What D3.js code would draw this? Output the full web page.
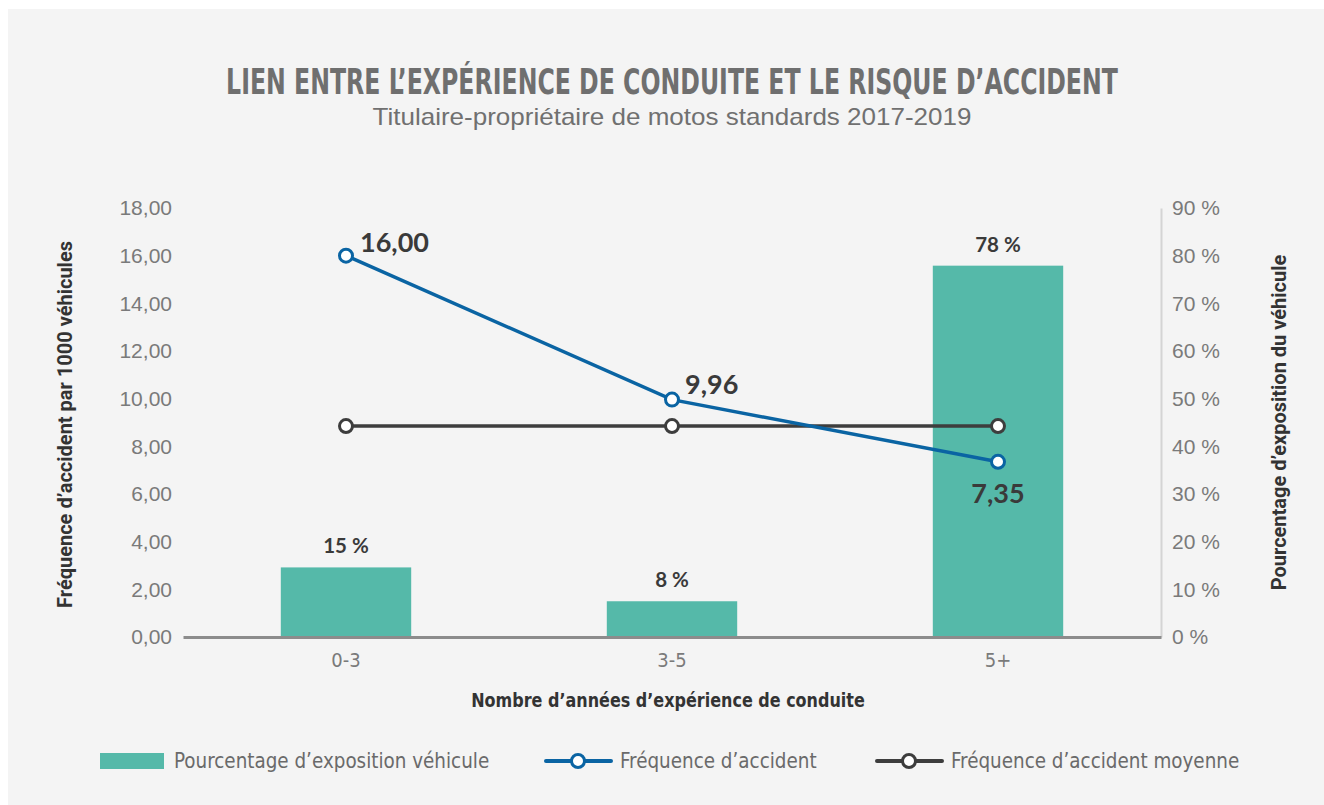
<!DOCTYPE html>
<html>
<head>
<meta charset="utf-8">
<script src="https://cdn.jsdelivr.net/npm/d3@7"></script>
<style>
  html, body { margin: 0; padding: 0; background: #ffffff; }
  svg { display: block; }
</style>
</head>
<body>
<div id="chart"></div>
<script>
// Lien entre l'expérience de conduite et le risque d'accident

// Data
const categories = ["0-3", "3-5", "5+"];
const exposure = [0.146, 0.075, 0.779];          // pourcentage d'exposition véhicule
const frequency = [16.00, 9.96, 7.35];           // fréquence d'accident
const averageFrequency = [8.85, 8.85, 8.85];     // fréquence d'accident moyenne
const leftTicks = [0, 2, 4, 6, 8, 10, 12, 14, 16, 18];
const rightTicks = [0, 0.1, 0.2, 0.3, 0.4, 0.5, 0.6, 0.7, 0.8, 0.9];

const W = 1324, H = 805;
const plot = {left: 183, right: 1161, top: 208, bottom: 637};

const fr = d3.formatLocale({decimal: ",", thousands: " ", grouping: [3], currency: ["", " €"]});
const fmt2 = fr.format(".2f");
const pct = d => Math.round(d * 100) + " %";

const narrow = "'Liberation Sans Narrow', 'DejaVu Sans Condensed', sans-serif";
const sans = "'Liberation Sans', Arial, sans-serif";
const bold = "Lato, 'Open Sans', sans-serif";

const colTeal = "#55b9a9", colBlue = "#0a64a3", colDark = "#3d3d3d";

const svg = d3.select("#chart").append("svg")
    .attr("width", W)
    .attr("height", H);

// Panel background
svg.append("rect")
    .attr("x", 8).attr("y", 9)
    .attr("width", W - 8).attr("height", H - 9)
    .attr("fill", "#f4f4f4");

// squeeze a text horizontally so it spans the given width around cx
function fitWidth(sel, cx, width) {
    const w = sel.node().getComputedTextLength();
    const k = width / w;
    sel.attr("x", 0)
        .attr("transform", `translate(${cx},${sel.attr("y")}) scale(${k},1)`)
        .attr("y", 0);
}

// Title
const title = svg.append("text")
    .attr("y", 94)
    .attr("text-anchor", "middle")
    .style("font-family", narrow)
    .style("font-weight", "bold")
    .style("font-size", "35px")
    .attr("fill", "#6f6f6f")
    .text("LIEN ENTRE L’EXPÉRIENCE DE CONDUITE ET LE RISQUE D’ACCIDENT");
fitWidth(title, 672, 892);

const subtitle = svg.append("text")
    .attr("y", 125)
    .attr("text-anchor", "middle")
    .style("font-family", sans)
    .style("font-size", "23px")
    .attr("fill", "#707070")
    .text("Titulaire-propriétaire de motos standards 2017-2019");
fitWidth(subtitle, 672, 599);

// Scales
const x = d3.scaleBand()
    .domain(categories)
    .range([plot.left, plot.right])
    .paddingInner(0).paddingOuter(0);

const y = d3.scaleLinear().domain([0, 18]).range([plot.bottom, plot.top]);
const y2 = d3.scaleLinear().domain([0, 0.9]).range([plot.bottom, plot.top]);

const barW = x.bandwidth() * 0.4;
const cx = d => x(d) + x.bandwidth() / 2;

// Left axis (labels only)
const leftAxis = svg.append("g")
    .attr("transform", `translate(${plot.left - 11},0)`)
    .call(d3.axisLeft(y).tickValues(leftTicks).tickFormat(fmt2).tickSize(0).tickPadding(0));
leftAxis.select(".domain").remove();
leftAxis.selectAll("text")
    .style("font-family", sans)
    .style("font-size", "21px")
    .attr("fill", "#7a7a7a");

// Right axis
const rightAxis = svg.append("g")
    .attr("transform", `translate(${plot.right},0)`)
    .call(d3.axisRight(y2).tickValues(rightTicks).tickFormat(pct).tickSize(0).tickPadding(11));
rightAxis.select(".domain")
    .attr("stroke", "#d4d4d4")
    .attr("stroke-width", 2);
rightAxis.selectAll("text")
    .style("font-family", sans)
    .style("font-size", "21px")
    .attr("fill", "#7a7a7a");

// Bars
svg.selectAll(".bar")
    .data(categories)
    .enter()
    .append("rect")
    .attr("class", "bar")
    .attr("x", d => cx(d) - barW / 2)
    .attr("y", (d, i) => y2(exposure[i]))
    .attr("width", barW)
    .attr("height", (d, i) => plot.bottom - y2(exposure[i]))
    .attr("fill", colTeal);

svg.selectAll(".bar-label")
    .data(categories)
    .enter()
    .append("text")
    .attr("class", "bar-label")
    .attr("x", d => cx(d))
    .attr("y", (d, i) => y2(exposure[i]) - 14)
    .attr("text-anchor", "middle")
    .style("font-family", bold)
    .style("font-weight", "bold")
    .style("font-size", "20.5px")
    .attr("fill", "#3a3a3a")
    .text((d, i) => pct(exposure[i]));

// X axis baseline and labels
const xAxis = svg.append("g")
    .attr("transform", `translate(0,${plot.bottom})`)
    .call(d3.axisBottom(x).tickSize(0).tickPadding(16));
xAxis.select(".domain")
    .attr("stroke", "#8c8c8c")
    .attr("stroke-width", 3);
xAxis.selectAll("text")
    .style("font-family", narrow)
    .style("font-size", "20px")
    .attr("fill", "#7a7a7a");

// Lines
const line = d3.line()
    .x((d, i) => cx(categories[i]))
    .y(d => y(d));

function drawSeries(values, color) {
    svg.append("path")
        .datum(values)
        .attr("fill", "none")
        .attr("stroke", color)
        .attr("stroke-width", 3.5)
        .attr("d", line);
    svg.append("g")
        .selectAll("circle")
        .data(values)
        .enter()
        .append("circle")
        .attr("cx", (d, i) => cx(categories[i]))
        .attr("cy", d => y(d))
        .attr("r", 6.5)
        .attr("fill", "#ffffff")
        .attr("stroke", color)
        .attr("stroke-width", 3);
}

drawSeries(averageFrequency, colDark);
drawSeries(frequency, colBlue);

// Frequency labels
const freqLabelPos = [
    {dx: 14, dy: -4, anchor: "start"},
    {dx: 13, dy: -6, anchor: "start"},
    {dx: 0, dy: 41, anchor: "middle"}
];
svg.selectAll(".freq-label")
    .data(frequency)
    .enter()
    .append("text")
    .attr("class", "freq-label")
    .attr("x", (d, i) => cx(categories[i]) + freqLabelPos[i].dx)
    .attr("y", (d, i) => y(d) + freqLabelPos[i].dy)
    .attr("text-anchor", (d, i) => freqLabelPos[i].anchor)
    .style("font-family", bold)
    .style("font-weight", "bold")
    .style("font-size", "27px")
    .attr("fill", "#3a3a3a")
    .text(d => fmt2(d));

// Axis titles
svg.append("text")
    .attr("transform", `translate(72,${(plot.top + plot.bottom) / 2 + 2}) rotate(-90)`)
    .attr("text-anchor", "middle")
    .style("font-family", "Roboto, sans-serif")
    .style("font-weight", "bold")
    .style("font-size", "20px")
    .attr("fill", "#333333")
    .text("Fréquence d’accident par 1000 véhicules");

svg.append("text")
    .attr("transform", `translate(1286,${(plot.top + plot.bottom) / 2}) rotate(-90)`)
    .attr("text-anchor", "middle")
    .style("font-family", "Roboto, sans-serif")
    .style("font-weight", "bold")
    .style("font-size", "20px")
    .attr("fill", "#333333")
    .text("Pourcentage d’exposition du véhicule");

const xTitle = svg.append("text")
    .attr("y", 707)
    .attr("text-anchor", "middle")
    .style("font-family", narrow)
    .style("font-weight", "bold")
    .style("font-size", "20px")
    .attr("fill", "#333333")
    .text("Nombre d’années d’expérience de conduite");
fitWidth(xTitle, 668, 394);

// Legend
const legend = svg.append("g").attr("transform", "translate(0,761)");

legend.append("rect")
    .attr("x", 100).attr("y", -8)
    .attr("width", 64).attr("height", 16)
    .attr("fill", colTeal);
legend.append("text")
    .attr("x", 174).attr("y", 7)
    .style("font-family", narrow)
    .style("font-size", "20.4px")
    .attr("fill", "#6a6a6a")
    .text("Pourcentage d’exposition véhicule");

[[546, colBlue, "Fréquence d’accident"], [877, colDark, "Fréquence d’accident moyenne"]].forEach(([lx, c, label]) => {
    legend.append("line")
        .attr("x1", lx).attr("x2", lx + 65)
        .attr("y1", 0).attr("y2", 0)
        .attr("stroke", c)
        .attr("stroke-width", 4)
        .attr("stroke-linecap", "round");
    legend.append("circle")
        .attr("cx", lx + 32).attr("cy", 0)
        .attr("r", 6.5)
        .attr("fill", "#ffffff")
        .attr("stroke", c)
        .attr("stroke-width", 3);
    legend.append("text")
        .attr("x", lx + 74).attr("y", 7)
        .style("font-family", narrow)
        .style("font-size", "20.4px")
        .attr("fill", "#6a6a6a")
        .text(label);
});
</script>
</body>
</html>
